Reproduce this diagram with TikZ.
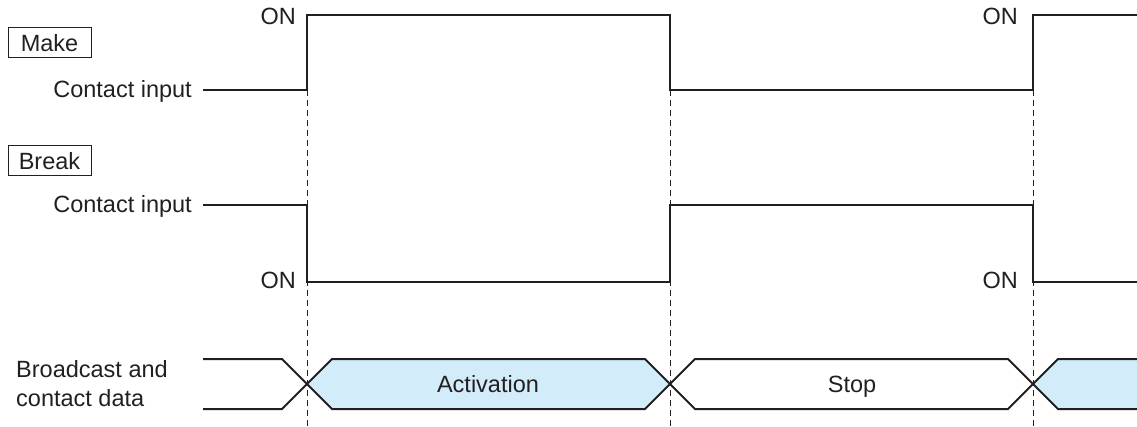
\documentclass[tikz,border=0pt]{standalone}
\usepackage{fontspec}
\setmainfont{Liberation Sans}
\definecolor{ink}{HTML}{231F20}
\definecolor{act}{HTML}{D3ECFA}
\begin{document}
\begin{tikzpicture}[x=1pt,y=-1pt,
  font=\fontsize{23.5}{28}\selectfont,
  sig/.style={line width=2.6pt, draw=ink, line join=miter},
  bus/.style={line width=2pt, draw=ink, line join=miter},
  guide/.style={line width=1pt, dash pattern=on 6pt off 4pt, draw=ink},
  lbl/.style={inner sep=0pt, text=ink},
  tag/.style={draw=ink, line width=1pt, minimum width=83pt, minimum height=30pt, inner sep=0pt, text=ink}]
\useasboundingbox (0,0) rectangle (1137,427);
% data bus fills
\fill[act] (307,384) -- (332,359) -- (645,359) -- (670,384) -- (645,409) -- (332,409) -- cycle;
\fill[act] (1033,384) -- (1058,359) -- (1137,359) -- (1137,409) -- (1058,409) -- cycle;
% guides
\draw[guide] (307,90) -- (307,427);
\draw[guide] (670,90) -- (670,427);
\draw[guide] (1033,90) -- (1033,427);
% signals
\draw[sig] (203,90) -- (307,90) -- (307,15) -- (670,15) -- (670,90) -- (1033,90) -- (1033,15) -- (1137,15);
\draw[sig] (203,205) -- (307,205) -- (307,282) -- (670,282) -- (670,205) -- (1033,205) -- (1033,282) -- (1137,282);
% bus lines
\draw[bus] (203,359) -- (282,359) -- (332,409) -- (645,409) -- (695,359) -- (1008,359) -- (1058,409) -- (1137,409);
\draw[bus] (203,409) -- (282,409) -- (332,359) -- (645,359) -- (695,409) -- (1008,409) -- (1058,359) -- (1137,359);
% labels
\node[tag] (make) at (49.5,43) {\raisebox{0pt}{Make}};
\node[tag] (break) at (49.5,161) {Break};
\node[lbl, anchor=base east] (mkin) at (192,98) {Contact input};
\node[lbl, anchor=base east] (brin) at (192,213) {Contact input};
\node[lbl, anchor=base east] (on1) at (296,25) {ON};
\node[lbl, anchor=base east] (on2) at (296,289) {ON};
\node[lbl, anchor=base east] (on3) at (1018,25) {ON};
\node[lbl, anchor=base east] (on4) at (1018,289) {ON};
\node[lbl, anchor=base west] (bc1) at (16,377) {Broadcast and};
\node[lbl, anchor=base west] (bc2) at (16,406) {contact data};
\node[lbl, anchor=base] (actv) at (488,392) {Activation};
\node[lbl, anchor=base] (stop) at (852,392) {Stop};
\end{tikzpicture}
\end{document}
